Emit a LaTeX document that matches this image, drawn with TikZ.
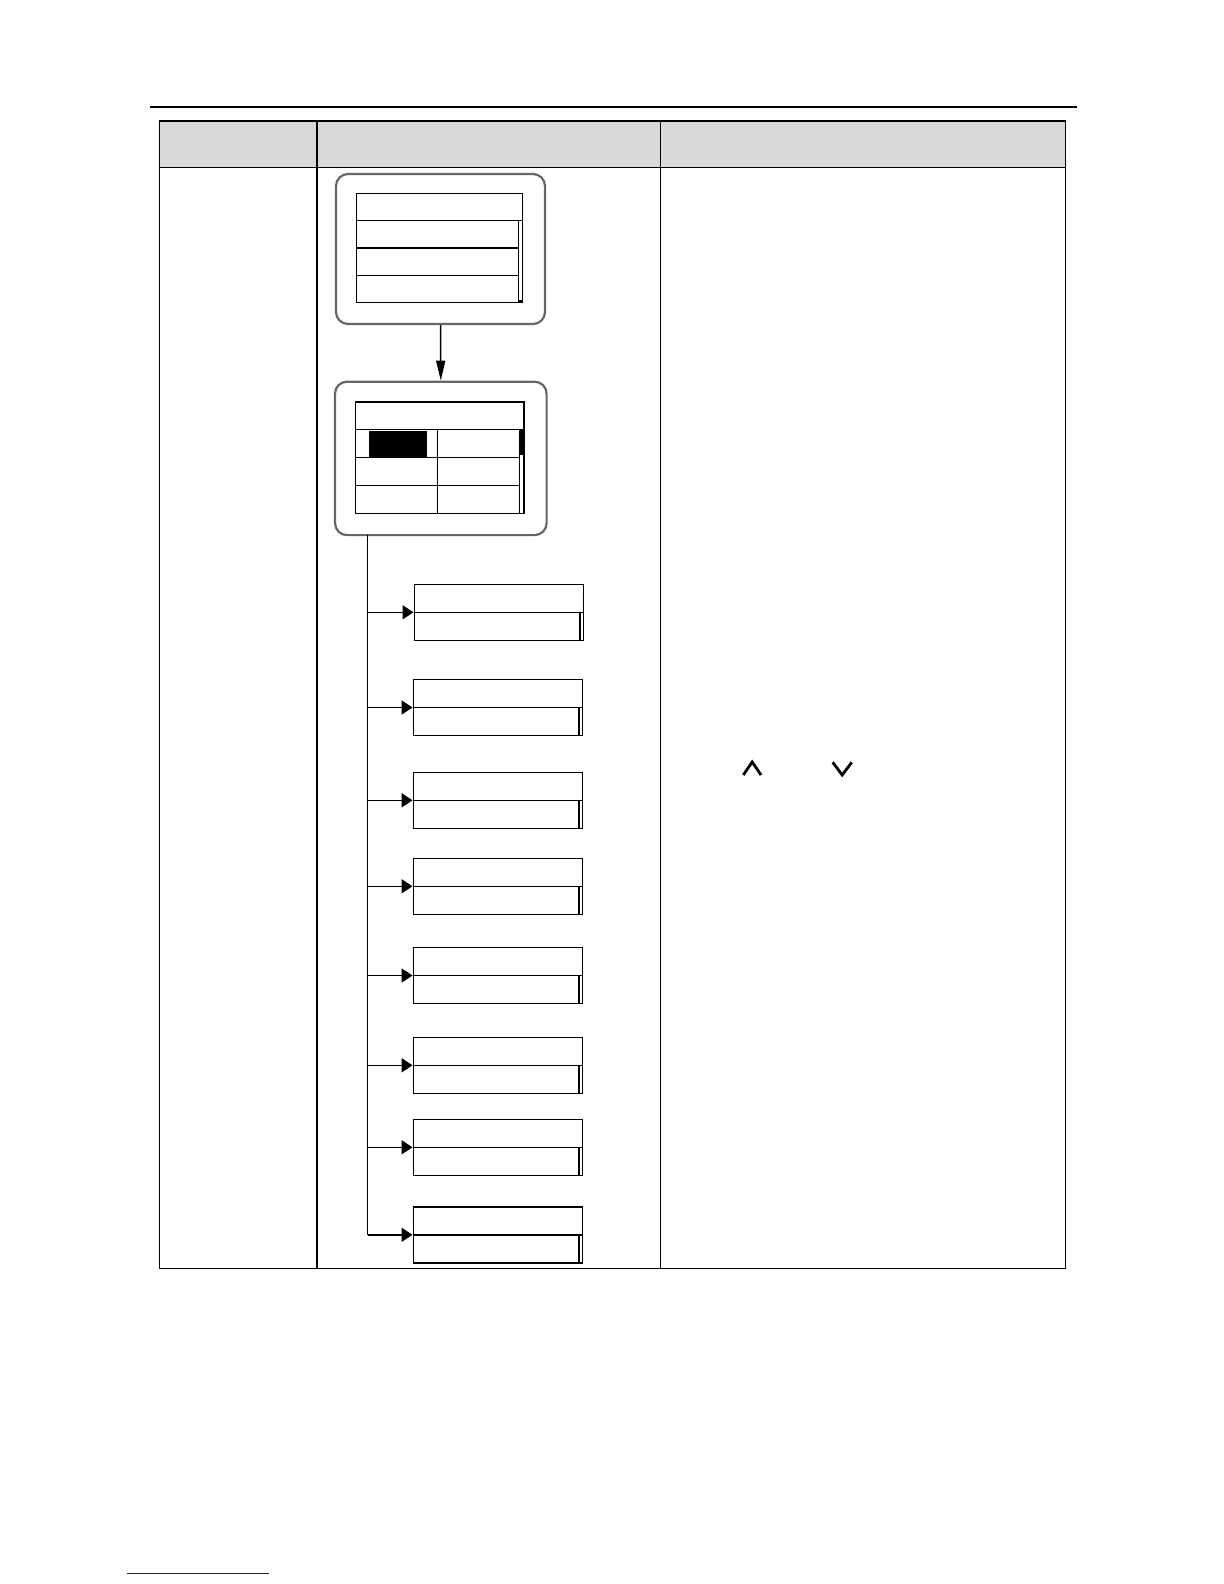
\documentclass[tikz,border=0pt]{standalone}
\usetikzlibrary{arrows.meta}
\definecolor{hdr}{HTML}{D9D9D9}
\definecolor{frame}{HTML}{666666}
\definecolor{linkblue}{HTML}{1010B0}
\begin{document}
\begin{tikzpicture}[x=0.5pt,y=-0.5pt,line width=0.75pt,
  screen/.style={draw=frame,line width=1.1pt,rounded corners=6pt,inner sep=0pt,fill=white},
  subbox/.style={draw,line width=0.75pt,inner sep=0pt,minimum width=84.5pt,minimum height=28pt},
  bigarr/.style={-{Triangle[length=10pt,width=4.5pt]}},
  smallarr/.style={-{Triangle[length=5.5pt,width=7pt]}},
  chev/.style={line width=1.4pt}]
\useasboundingbox (0,0) rectangle (1224,1584);
% top rule
\draw[line width=1.1pt] (149.5,107.3) -- (1076.5,107.3);
% table
\fill[hdr] (159.6,121.2) rectangle (1065.4,167.6);
\draw (159.6,121.2) rectangle (1065.4,1268.4);
\draw (159.6,167.6) -- (1065.4,167.6);
\draw (317.1,121.2) -- (317.1,1268.4);
\draw (660.5,121.2) -- (660.5,1268.4);
% screen 1
\node[screen,minimum width=104.5pt,minimum height=75pt] (s1) at (440.5,249) {};
\draw (356.3,193.3) rectangle (522.3,302.7);
\draw (356.3,220.7) -- (522.3,220.7);
\draw[line width=1.1pt] (356.3,248) -- (518.3,248);
\draw (356.3,275.3) -- (518.3,275.3);
\draw (518.3,220.7) -- (518.3,302.7);
\fill (518.3,299.5) rectangle (522.3,302.7);
% screen 2
\node[screen,minimum width=105.8pt,minimum height=76.7pt] (s2) at (440.8,458.4) {};
\draw (355.3,401.7) rectangle (524,513.3);
\draw[line width=1.1pt] (355.3,401.7) -- (524,401.7);
\draw (355.3,429.3) -- (524,429.3);
\draw (355.3,457.3) -- (519.3,457.3);
\draw (355.3,485.3) -- (519.3,485.3);
\draw (437.3,429.3) -- (437.3,513.3);
\draw (519.3,429.3) -- (519.3,513.3);
\fill (519.3,429.3) rectangle (524,455);
\fill (369,431) rectangle (427.3,456.7);
% arrow between screens
\draw[bigarr] (s1.south) -- (s2.north);
% trunk
\coordinate (tt) at (367.5,535);
\coordinate (tb) at (367.5,1235);
\draw (tt) -- (tb);
% sub boxes
\foreach \i/\cx/\cy in {1/498.8/612.3, 2/497.8/707.5, 3/497.8/800.3, 4/497.8/886.3, 5/497.8/975.5, 6/497.8/1065.3, 7/497.8/1147.3, 8/497.8/1234.8}{
  \node[subbox] (b\i) at (\cx,\cy) {};
  \draw (b\i.west) -- (b\i.east);
  \draw ([xshift=-2pt]b\i.east) -- ([xshift=-2pt]b\i.south east);
  \draw[smallarr] (tt |- b\i.west) -- (b\i.west);
}
% chevrons
\draw[chev] (743.3,775) -- (752.2,762) -- (761,775);
\draw[chev] (832.7,762.3) -- (842.2,775) -- (851.7,762.3);
% footer link line
\draw[linkblue,line width=0.9pt] (127,1573.5) -- (269,1573.5);
\end{tikzpicture}
\end{document}
